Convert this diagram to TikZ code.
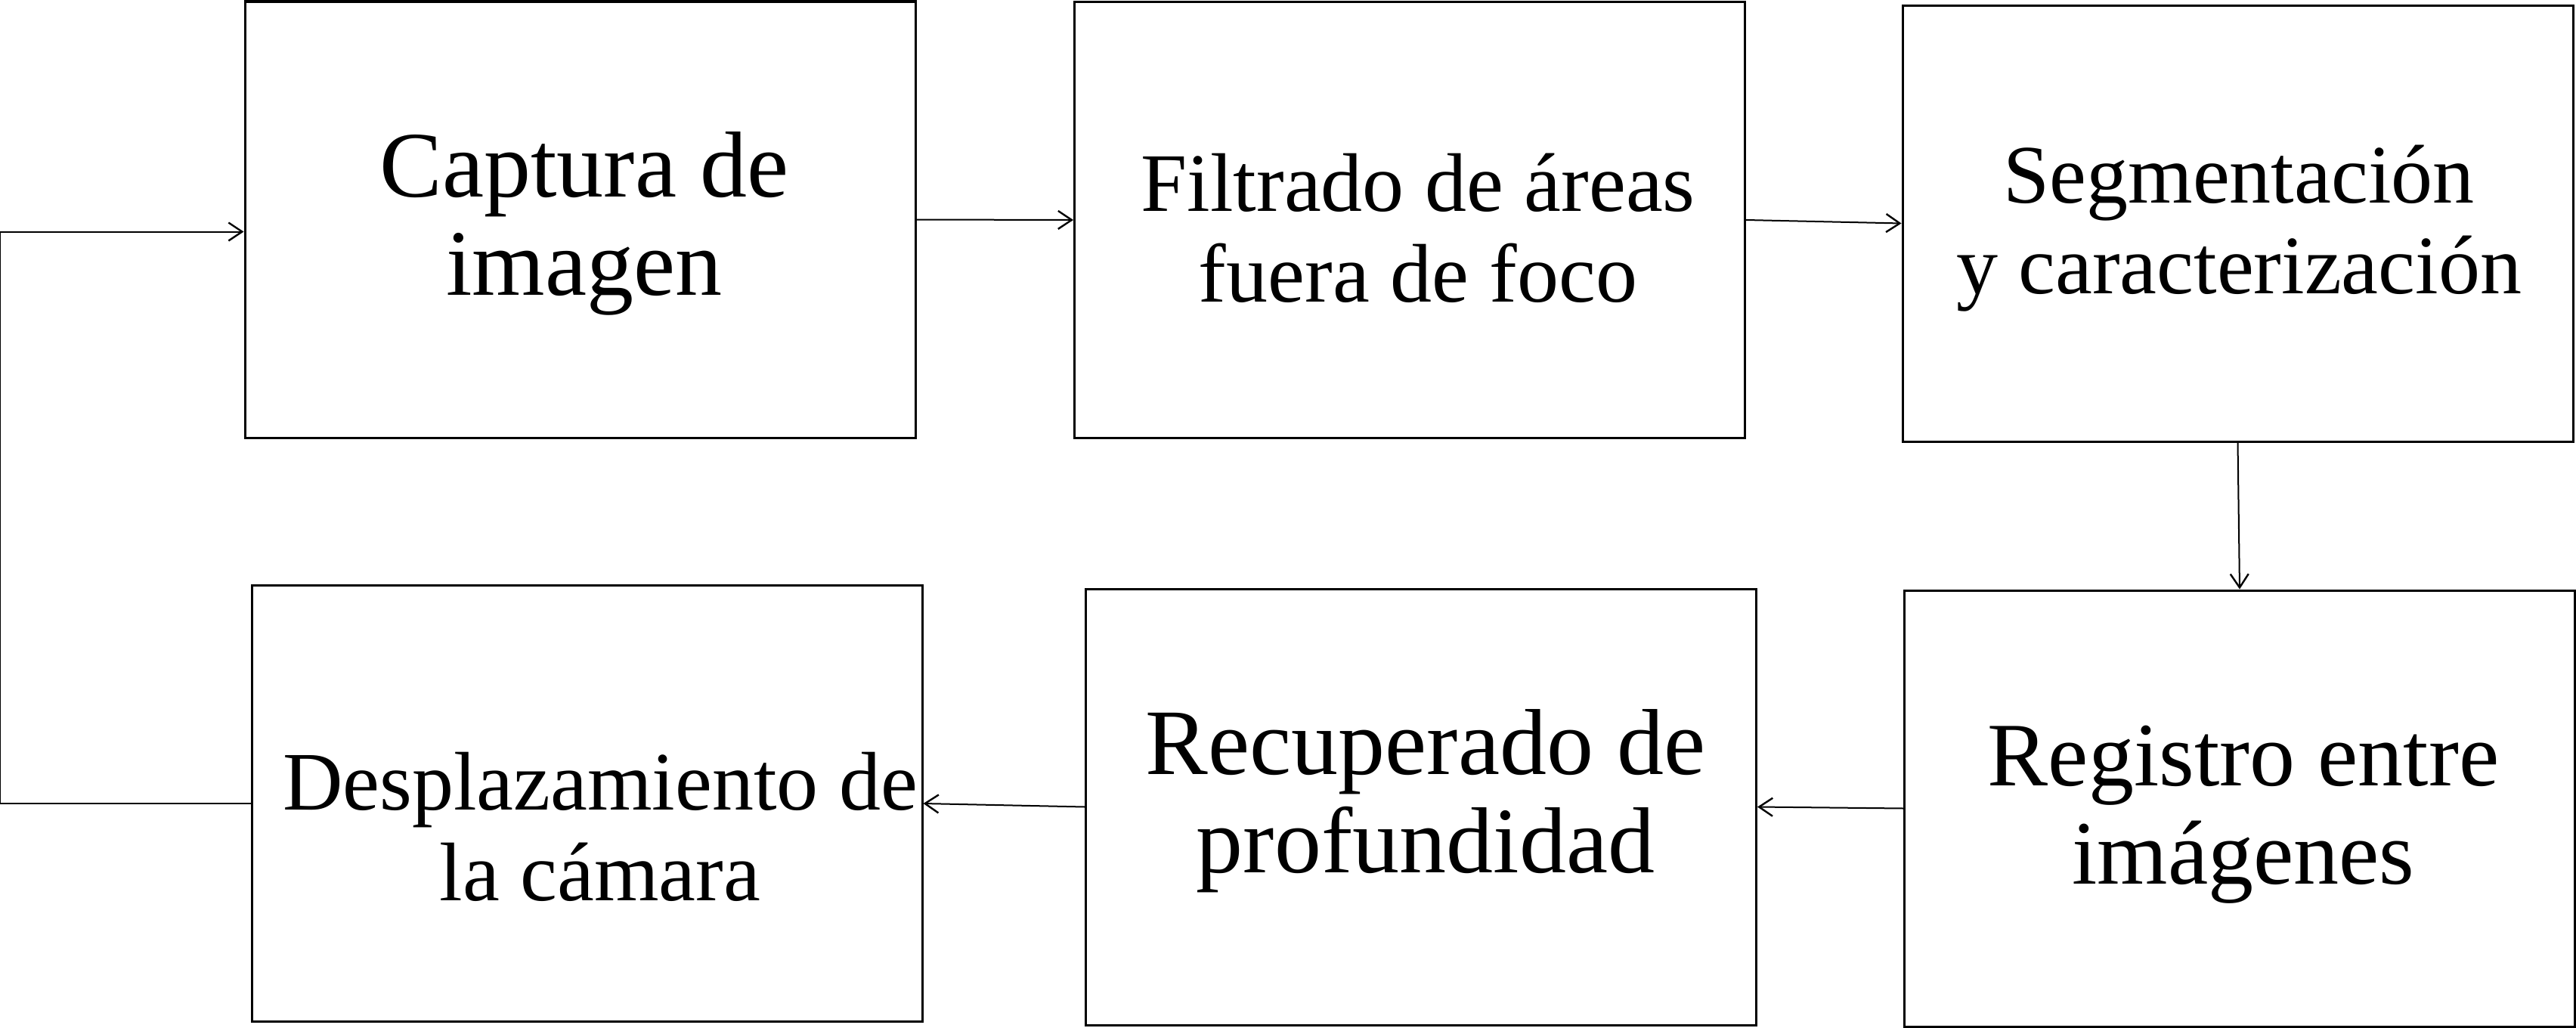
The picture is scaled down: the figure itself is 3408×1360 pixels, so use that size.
\documentclass[tikz,border=0pt]{standalone}
\usepackage{fontspec}
\setmainfont{Liberation Serif}
\usetikzlibrary{arrows.meta}
\begin{document}
\begin{tikzpicture}[x=0.25pt,y=-0.25pt,
  blk/.style={draw=black,line width=0.75pt,rectangle,inner sep=0pt,
    minimum width=221.75pt,minimum height=144.25pt},
  bigtxt/.style={align=center,inner sep=0pt,font=\fontsize{31}{32.5}\selectfont},
  midtxt/.style={align=center,inner sep=0pt,font=\fontsize{30}{32.5}\selectfont},
  smalltxt/.style={align=center,inner sep=0pt,font=\fontsize{27.5}{30}\selectfont},
  arr/.style={draw=black,line width=0.5pt,-{Straight Barb[length=4.5pt,width=6pt,line width=0.6pt]}}]
\useasboundingbox (0,0) rectangle (3408,1360);
\node[blk] (b1) at (767.5,290.5) {};
\node[blk] (b2) at (1865,291) {};
\node[blk] (b3) at (2960.5,295.5) {};
\node[blk] (b4) at (776.5,1063) {};
\node[blk] (b5) at (1880,1067.5) {};
\node[blk] (b6) at (2963,1069.5) {};
\node[bigtxt] (t1) at (773,296) {Captura de\\imagen};
\node[smalltxt] (t2) at (1876,302) {Filtrado de áreas\\fuera de foco};
\node[smalltxt] (t3) at (2962,302) {Segmentación\\y caracterización};
\node[smalltxt] (t4) at (794,1094) {Desplazamiento de\\la cámara};
\node[bigtxt] (t5) at (1886,1060) {Recuperado de\\profundidad};
\node[midtxt] (t6) at (2968,1078) {Registro entre\\imágenes};
\draw[arr] (b1.east) -- (b2.west);
\draw[arr] (b2.east) -- (b3.west);
\draw[arr] (b3.south) -- (b6.north);
\draw[arr] (b6.west) -- (b5.east);
\draw[arr] (b5.west) -- (b4.east);
\draw[arr] (b4.west) -- ++(-331,0) |- ([yshift=-4pt]b1.west);
\end{tikzpicture}
\end{document}
